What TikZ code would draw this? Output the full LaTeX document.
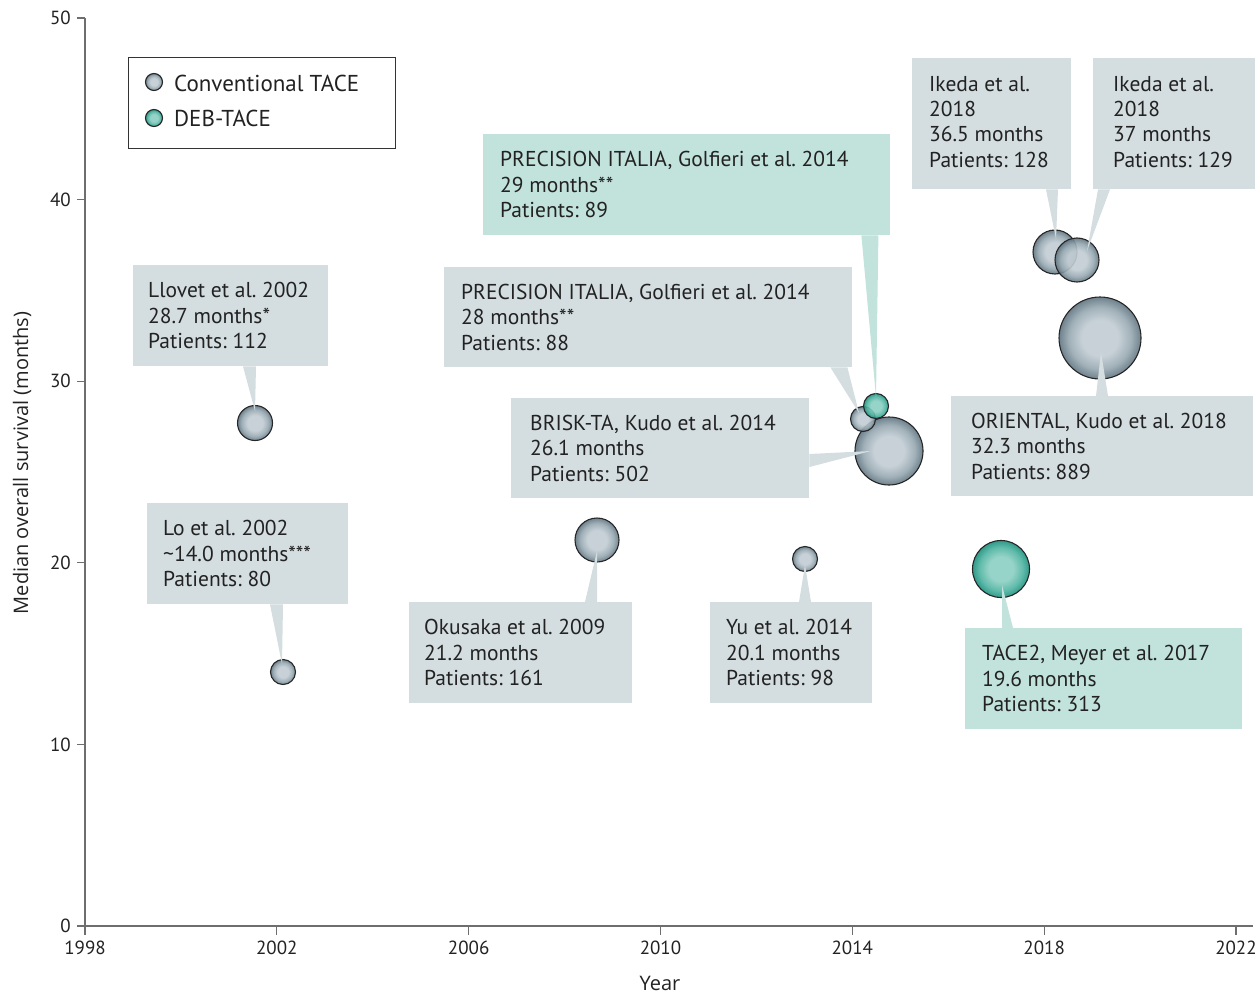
\documentclass[tikz,border=0pt]{standalone}
\usepackage{fontspec}
\setmainfont{PT Sans}
\newfontfamily\titlefont{Open Sans}
\usetikzlibrary{calc}

\definecolor{boxgray}{HTML}{D4DDE0}
\definecolor{boxteal}{HTML}{C2E2DC}
\definecolor{bubgrayin}{HTML}{C1CCD3}
\definecolor{bubgraymid}{HTML}{97A8B1}
\definecolor{bubgrayout}{HTML}{5F7480}
\definecolor{bubtealin}{HTML}{8BCEC2}
\definecolor{bubtealmid}{HTML}{4FB4A2}
\definecolor{bubtealout}{HTML}{1A8F7C}
\definecolor{axisgray}{HTML}{6E6E6E}
\definecolor{ink}{HTML}{222222}

\pgfdeclareradialshading{bubgray}{\pgfpoint{0bp}{0bp}}{color(0bp)=(bubgrayin); color(11bp)=(bubgrayin); color(19bp)=(bubgraymid); color(25bp)=(bubgrayout); color(50bp)=(bubgrayout)}
\pgfdeclareradialshading{bubteal}{\pgfpoint{0bp}{0bp}}{color(0bp)=(bubtealin); color(11bp)=(bubtealin); color(19bp)=(bubtealmid); color(25bp)=(bubtealout); color(50bp)=(bubtealout)}

\tikzset{
  axis/.style={draw=axisgray, line width=1.8pt},
  ticklabel/.style={font=\fontsize{19}{21}\selectfont, text=ink, inner sep=0pt},
  axistitle/.style={font=\titlefont\fontsize{20}{22}\selectfont, text=ink, inner sep=0pt},
  bubble/.style={circle, inner sep=0pt, outer sep=0pt, minimum size=#1, draw=black!85, line width=1.1pt, shade, fill opacity=0.9},
  gbub/.style={bubble=#1, shading=bubgray},
  tbub/.style={bubble=#1, shading=bubteal},
  callbox/.style={rectangle, anchor=north west, inner sep=0pt},
  gbox/.style={callbox, fill=boxgray},
  tbox/.style={callbox, fill=boxteal},
  boxtext/.style={anchor=west, align=left, inner sep=0pt,
    font=\fontsize{21.5}{25.3}\selectfont\frenchspacing, text=ink},
  legtext/.style={anchor=west, inner sep=0pt, font=\fontsize{23}{26}\selectfont, text=ink},
}

\begin{document}
\begin{tikzpicture}[x=1pt, y=-1pt]
\useasboundingbox (0,0) rectangle (1260,995);

% axes
\coordinate (ytop) at (85,18);
\coordinate (orig) at (85,926);
\coordinate (xend) at (1253,926);
\draw[axis] (ytop) -- (orig) -- (xend);
\foreach \v [count=\i from 0] in {0,10,20,30,40,50}{
  \draw[axisgray, line width=1.2pt] (77,926-\i*181.6) -- (85,926-\i*181.6);
  \node[ticklabel, anchor=east] (yl\i) at (71,926-\i*181.6) {\v};
}
\foreach \yr [count=\i from 0] in {1998,2002,2006,2010,2014,2018,2022}{
  \draw[axisgray, line width=1.2pt] (85+\i*191.83,926) -- (85+\i*191.83,935);
  \node[ticklabel, anchor=north] (xl\i) at (85+\i*191.83,941) {\yr};
}
\node[axistitle] (xlab) at (660,983) {Year};
\node[axistitle, rotate=90] (ylab) at (22,463) {Median overall survival (months)};

% legend
\node[draw=black!80, line width=1.2pt, fill=white, anchor=north west,
      minimum width=267pt, minimum height=91pt, inner sep=0pt] (legend) at (128,57) {};
\node[gbub=17pt] (lg1) at (154,82) {};
\node[tbub=17pt] (lg2) at (154,118) {};
\node[legtext] (lt1) at (174,83) {Conventional TACE};
\node[legtext] (lt2) at (174,118) {DEB-TACE};

% bubbles
\node[gbub=35pt] (llovet-b) at (255,423) {};
\node[gbub=25pt] (lo-b) at (283,672) {};
\node[gbub=44pt] (okusaka-b) at (597,540) {};
\node[gbub=25pt] (yu-b) at (805,559) {};
\node[gbub=68pt] (brisk-b) at (889,451) {};
\node[gbub=25pt] (precg-b) at (863,419) {};
\node[tbub=25pt] (prect-b) at (876,406) {};
\node[gbub=44pt] (ikeda1-b) at (1055,252) {};
\node[gbub=44pt] (ikeda2-b) at (1077,260) {};
\node[gbub=82pt] (oriental-b) at (1100,338) {};
\node[tbub=57pt] (tace2-b) at (1001,569) {};

% callout boxes
\node[gbox, minimum width=195pt, minimum height=101pt] (llovet) at (133,265) {};
\node[gbox, minimum width=201pt, minimum height=101pt] (lo) at (147,503) {};
\node[gbox, minimum width=223pt, minimum height=101pt] (okusaka) at (409,602) {};
\node[gbox, minimum width=162pt, minimum height=101pt] (yu) at (710,602) {};
\node[gbox, minimum width=298pt, minimum height=100pt] (brisk) at (511,398) {};
\node[gbox, minimum width=408pt, minimum height=100pt] (precg) at (444,267) {};
\node[tbox, minimum width=407pt, minimum height=101pt] (prect) at (483,134) {};
\node[gbox, minimum width=159pt, minimum height=131pt] (ikeda1) at (912,58) {};
\node[gbox, minimum width=162pt, minimum height=131pt] (ikeda2) at (1093,58) {};
\node[gbox, minimum width=302pt, minimum height=100pt] (oriental) at (951,396) {};
\node[tbox, minimum width=277pt, minimum height=101pt] (tace2) at (965,628) {};

% callout texts
\node[boxtext] (llovet-t) at ($(llovet.west)+(15,0)$) {Llovet et al. 2002\\28.7 months*\\Patients: 112};
\node[boxtext] (lo-t) at ($(lo.west)+(16,0)$) {Lo et al. 2002\\\textasciitilde14.0 months***\\Patients: 80};
\node[boxtext] (okusaka-t) at ($(okusaka.west)+(15,0)$) {Okusaka et al. 2009\\21.2 months\\Patients: 161};
\node[boxtext] (yu-t) at ($(yu.west)+(16,0)$) {Yu et al. 2014\\20.1 months\\Patients: 98};
\node[boxtext] (brisk-t) at ($(brisk.west)+(19,0)$) {BRISK-TA, Kudo et al. 2014\\26.1 months\\Patients: 502};
\node[boxtext] (precg-t) at ($(precg.west)+(17,0)$) {PRECISION ITALIA, Golfieri et al. 2014\\28 months**\\Patients: 88};
\node[boxtext] (prect-t) at ($(prect.west)+(17,0)$) {PRECISION ITALIA, Golfieri et al. 2014\\29 months**\\Patients: 89};
\node[boxtext] (ikeda1-t) at ($(ikeda1.west)+(17,-2)$) {Ikeda et al.\\2018\\36.5 months\\Patients: 128};
\node[boxtext] (ikeda2-t) at ($(ikeda2.west)+(20,-2)$) {Ikeda et al.\\2018\\37 months\\Patients: 129};
\node[boxtext] (oriental-t) at ($(oriental.west)+(20,0)$) {ORIENTAL, Kudo et al. 2018\\32.3 months\\Patients: 889};
\node[boxtext] (tace2-t) at ($(tace2.west)+(17,0)$) {TACE2, Meyer et al. 2017\\19.6 months\\Patients: 313};

% callout pointers
\fill[boxgray] ($(llovet.south west)+(110,0)$) -- ($(llovet-b.center)+(0,-12)$) -- ($(llovet.south west)+(123,0)$) -- cycle;
\fill[boxgray] ($(lo.south west)+(123,0)$) -- ($(lo-b.center)+(-1,-8)$) -- ($(lo.south west)+(136,0)$) -- cycle;
\fill[boxgray] ($(okusaka.north west)+(176,0)$) -- ($(okusaka-b.center)+(0,11)$) -- ($(okusaka.north west)+(188,0)$) -- cycle;
\fill[boxgray] ($(yu.north west)+(89,0)$) -- ($(yu-b.center)+(0,6)$) -- ($(yu.north west)+(101,0)$) -- cycle;
\fill[boxgray] ($(brisk.north east)+(0,56)$) -- ($(brisk-b.center)+(-18,0)$) -- ($(brisk.north east)+(0,69)$) -- cycle;
\fill[boxgray] ($(precg.south east)+(-22,0)$) -- ($(precg-b.center)+(-4,-6)$) -- ($(precg.south east)+(-5,0)$) -- cycle;
\fill[boxteal] ($(prect.south east)+(-29,0)$) -- ($(prect-b.center)+(0,-9)$) -- ($(prect.south east)+(-12,0)$) -- cycle;
\fill[boxgray] ($(ikeda1.south west)+(134,0)$) -- ($(ikeda1-b.center)+(1,-13)$) -- ($(ikeda1.south west)+(146,0)$) -- cycle;
\fill[boxgray] ($(ikeda2.south west)+(5,0)$) -- ($(ikeda2-b.center)+(10,-9)$) -- ($(ikeda2.south west)+(17,0)$) -- cycle;
\fill[boxgray] ($(oriental.north west)+(145,0)$) -- ($(oriental-b.center)+(1,14)$) -- ($(oriental.north west)+(157,0)$) -- cycle;
\fill[boxteal] ($(tace2.north west)+(37,0)$) -- ($(tace2-b.center)+(1,16)$) -- ($(tace2.north west)+(48,0)$) -- cycle;
\end{tikzpicture}
\end{document}
